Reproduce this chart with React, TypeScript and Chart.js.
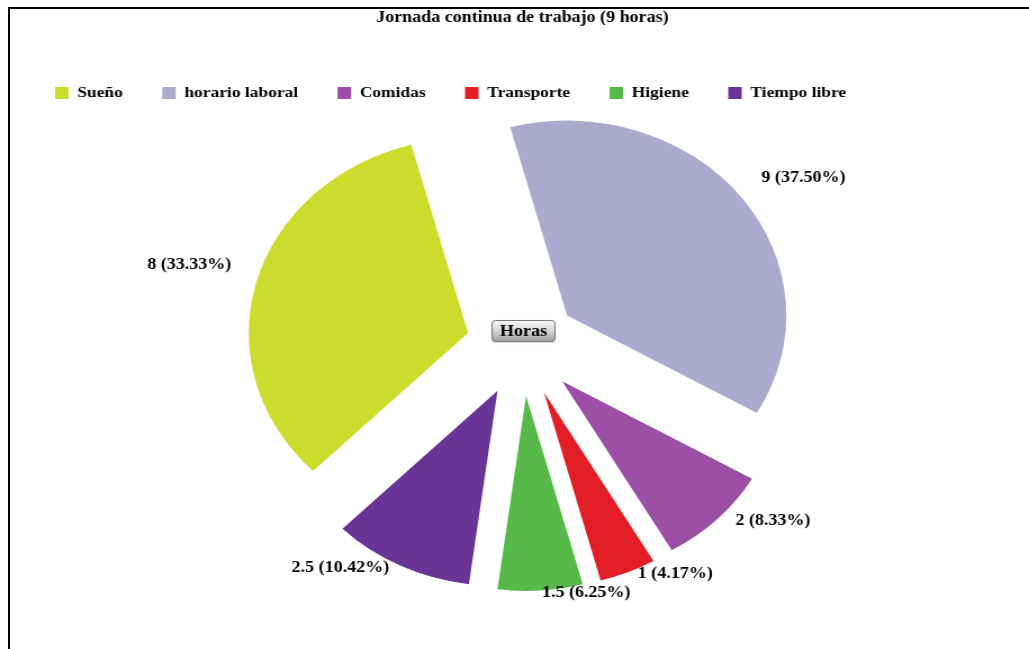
import { useEffect, useRef } from "react";
import { Chart, registerables } from "chart.js";

Chart.register(...registerables);

const TITLE = "Jornada continua de trabajo (9 horas)";
const CENTER_LABEL = "Horas";
const categories = ["Sueño", "horario laboral", "Comidas", "Transporte", "Higiene", "Tiempo libre"];
const hours = [8, 9, 2, 1, 1.5, 2.5];
const colors = ["#cbdc2c", "#a9aacc", "#9b4fa5", "#e21d26", "#56b94a", "#683596"];

// The reference picture is stretched horizontally; the canvas is drawn narrower and scaled by CSS.
const CANVAS_W = 915;
const CANVAS_H = 649;
const PAGE_W = 1029;
const EXPLODE = 50;
const LABEL_RX = 268;
const LABEL_RY = 248;
const FONT = "'Liberation Serif', 'Times New Roman', Times, serif";

const explodePlugin = {
  id: "explodeSlices",
  afterDatasetsUpdate(chart: any) {
    const meta = chart.getDatasetMeta(0);
    meta.data.forEach((arc: any) => {
      const mid = (arc.startAngle + arc.endAngle) / 2;
      arc.x += Math.cos(mid) * EXPLODE;
      arc.y += Math.sin(mid) * EXPLODE;
    });
  },
};

const labelsPlugin = {
  id: "sliceLabels",
  afterDatasetsDraw(chart: any) {
    const { ctx, chartArea } = chart;
    const cx = (chartArea.left + chartArea.right) / 2;
    const cy = (chartArea.top + chartArea.bottom) / 2;
    const meta = chart.getDatasetMeta(0);
    const values: number[] = chart.data.datasets[0].data;
    const total = values.reduce((a, b) => a + b, 0);
    ctx.save();
    ctx.font = `bold 16px ${FONT}`;
    ctx.fillStyle = "#000";
    meta.data.forEach((arc: any, i: number) => {
      const mid = (arc.startAngle + arc.endAngle) / 2;
      const c = Math.cos(mid);
      const s = Math.sin(mid);
      const x = cx + LABEL_RX * c;
      const y = cy - 9 + LABEL_RY * s;
      ctx.textAlign = c >= 0 ? "left" : "right";
      ctx.textBaseline = s < 0 ? "bottom" : "top";
      const pct = ((values[i] / total) * 100).toFixed(2);
      ctx.fillText(`${values[i]} (${pct}%)`, x, y);
    });
    ctx.restore();
  },
};

const badgePlugin = {
  id: "centerBadge",
  afterDraw(chart: any) {
    const { ctx, chartArea } = chart;
    const cx = (chartArea.left + chartArea.right) / 2 + 1;
    const cy = (chartArea.top + chartArea.bottom) / 2 - 15;
    const w = 56;
    const h = 21;
    const x = cx - w / 2;
    const y = cy - h / 2;
    ctx.save();
    ctx.shadowColor = "rgba(0,0,0,0.25)";
    ctx.shadowBlur = 2;
    ctx.shadowOffsetY = 1;
    const g = ctx.createLinearGradient(0, y, 0, y + h);
    g.addColorStop(0, "#f6f6f6");
    g.addColorStop(0.5, "#d6d6d6");
    g.addColorStop(1, "#9c9c9c");
    ctx.fillStyle = g;
    ctx.beginPath();
    ctx.roundRect(x, y, w, h, 3);
    ctx.fill();
    ctx.shadowColor = "transparent";
    ctx.strokeStyle = "#7a7a7a";
    ctx.lineWidth = 1;
    ctx.stroke();
    ctx.fillStyle = "#000";
    ctx.font = `bold 16px ${FONT}`;
    ctx.textAlign = "center";
    ctx.textBaseline = "middle";
    ctx.fillText(CENTER_LABEL, cx, cy + 1);
    ctx.restore();
  },
};

function PieChart() {
  const ref = useRef<HTMLCanvasElement | null>(null);
  useEffect(() => {
    if (!ref.current) return;
    Chart.defaults.font.family = FONT;
    Chart.defaults.color = "#000";
    const chart = new Chart(ref.current, {
      type: "pie",
      data: {
        labels: categories,
        datasets: [
          {
            data: hours,
            backgroundColor: colors,
            borderWidth: 0,
            hoverOffset: 0,
            radius: 195,
            clip: false,
          } as any,
        ],
      },
      options: {
        animation: false,
        responsive: false,
        maintainAspectRatio: false,
        events: [],
        rotation: -135,
        layout: { padding: { left: 14, right: 0, top: 0, bottom: 67.75 } },
        plugins: {
          title: {
            display: true,
            text: TITLE,
            color: "#000",
            font: { size: 16, weight: "bold", family: FONT },
            padding: { top: 8.4, bottom: 22.65 },
          },
          legend: {
            position: "top",
            align: "start",
            labels: {
              boxWidth: 12,
              boxHeight: 12,
              padding: 35,
              color: "#000",
              font: { size: 15.5, weight: "bold", family: FONT },
            },
          },
          tooltip: { enabled: false },
        },
      } as any,
      plugins: [explodePlugin, labelsPlugin, badgePlugin],
    });
    return () => chart.destroy();
  }, []);
  return (
    <canvas
      ref={ref}
      width={CANVAS_W}
      height={CANVAS_H}
      style={{ display: "block", width: `${PAGE_W}px`, height: `${CANVAS_H}px` }}
    />
  );
}

export default function App() {
  return (
    <div style={{ position: "fixed", left: 0, top: 0, width: PAGE_W, height: CANVAS_H, background: "#fff" }}>
      <PieChart />
      <div
        style={{
          position: "absolute",
          left: 8,
          top: 7,
          width: PAGE_W - 8,
          height: CANVAS_H - 7,
          borderLeft: "2px solid #000",
          borderTop: "2px solid #000",
          boxSizing: "border-box",
          pointerEvents: "none",
        }}
      />
    </div>
  );
}
